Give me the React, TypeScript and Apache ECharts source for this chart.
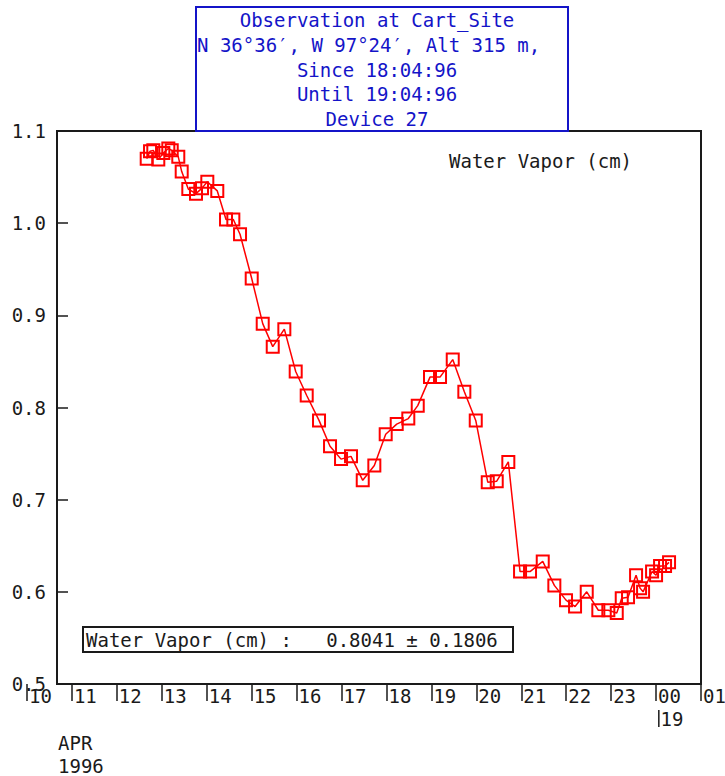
import React, { useEffect, useRef } from "react";
import * as echarts from "echarts";

// Hours since midnight of 18 Apr 1996 (24 = 00h on the 19th)
const times: number[] = [
  12.664, 12.738, 12.811, 12.922, 13.034, 13.145, 13.221, 13.367, 13.443, 13.59,
  13.761, 13.895, 14.013, 14.235, 14.429, 14.592, 14.741, 15.001, 15.246, 15.469,
  15.727, 15.98, 16.225, 16.499, 16.744, 16.989, 17.211, 17.472, 17.73, 17.983,
  18.228, 18.486, 18.696, 18.969, 19.192, 19.475, 19.733, 19.987, 20.254, 20.454,
  20.712, 20.973, 21.195, 21.478, 21.736, 21.996, 22.197, 22.457, 22.715, 22.938,
  23.125, 23.236, 23.376, 23.555, 23.644, 23.711, 23.911, 24.0, 24.089, 24.2,
  24.289,
];
const vapor: number[] = [
  1.070, 1.078, 1.079, 1.069, 1.076, 1.081, 1.079, 1.072, 1.056, 1.037,
  1.032, 1.038, 1.045, 1.035, 1.004, 1.004, 0.988, 0.940, 0.891, 0.866,
  0.885, 0.839, 0.813, 0.786, 0.758, 0.744, 0.747, 0.721, 0.737, 0.771,
  0.782, 0.788, 0.802, 0.833, 0.833, 0.852, 0.817, 0.786, 0.719, 0.720,
  0.741, 0.622, 0.622, 0.633, 0.607, 0.591, 0.584, 0.600, 0.580, 0.580,
  0.577, 0.593, 0.594, 0.618, 0.604, 0.600, 0.622, 0.618, 0.628, 0.628,
  0.632,
];

const titleLines: string[] = [
  "Observation at Cart_Site",
  "N 36°36′, W 97°24′, Alt 315 m,",
  "Since 18:04:96",
  "Until 19:04:96",
  "Device 27",
];
const seriesName = "Water Vapor (cm)";
const statsText = "Water Vapor (cm) :   0.8041 ± 0.1806";
const dateLines = "APR\n1996";
const yMin = 0.5;
const yMax = 1.1;
const yStep = 0.1;
const xMin = 10;
const xMax = 25;

const FONT = "DejaVu Sans Mono";
const BLUE = "#1414c8";
const INK = "#1a1a1a";

export default function App() {
  const ref = useRef<HTMLDivElement>(null);
  useEffect(() => {
    if (!ref.current) return;
    const chart = echarts.init(ref.current, undefined, { renderer: "svg" });
    const data = times.map((t, i) => [t, vapor[i]]);
    chart.setOption({
      animation: false,
      backgroundColor: "#fff",
      grid: {
        left: 27,
        right: 24,
        top: 131,
        bottom: 92,
        containLabel: false,
        outerBoundsMode: "none",
      },
      xAxis: {
        type: "value",
        min: xMin,
        max: xMax,
        interval: 1,
        axisLine: { show: false },
        splitLine: { show: false },
        axisTick: { show: true, inside: false, length: 17, lineStyle: { color: INK, width: 1.5 } },
        axisLabel: {
          showMinLabel: true,
          showMaxLabel: true,
          hideOverlap: false,
          align: "left",
          verticalAlign: "top",
          margin: 0,
          padding: [0, 0, 0, 2],
          lineHeight: 23,
          fontFamily: FONT,
          fontSize: 19,
          color: INK,
          formatter: (v: number) => {
            const h = Math.round(v) % 24;
            const s = String(h).padStart(2, "0");
            if (Math.round(v) === 24) return s + "\n{bar|}{gap|}19";
            return s;
          },
          rich: {
            bar: { width: 1.5, height: 17, backgroundColor: INK },
            gap: { width: 1, height: 17 },
          },
        },
      },
      yAxis: {
        type: "value",
        min: yMin,
        max: yMax,
        interval: yStep,
        offset: -30,
        axisLine: { show: false },
        splitLine: { show: false },
        axisTick: { show: true, inside: true, length: 11, lineStyle: { color: INK, width: 1.5 } },
        axisLabel: {
          margin: 11,
          fontFamily: FONT,
          fontSize: 19,
          color: INK,
          formatter: (v: number) => v.toFixed(1),
        },
      },
      series: [
        {
          name: seriesName,
          type: "line",
          data,
          symbol: "rect",
          symbolSize: 12,
          lineStyle: { color: "#ff0000", width: 1.5 },
          itemStyle: { color: "rgba(255,255,255,0)", borderColor: "#ff0000", borderWidth: 2 },
          z: 3,
        },
      ],
      graphic: [
        {
          type: "rect",
          z: 1,
          shape: { x: 57, y: 131, width: 644, height: 553 },
          style: { fill: "none", stroke: INK, lineWidth: 2 },
        },
        {
          type: "rect",
          z: 10,
          shape: { x: 196, y: 7, width: 372, height: 124 },
          style: { fill: "#fff", stroke: BLUE, lineWidth: 2 },
        },
        ...titleLines.map((t, i) => ({
          type: "text",
          z: 11,
          x: i === 1 ? 197 : 377,
          y: 20 + i * 24.75,
          style: {
            text: t,
            fill: BLUE,
            font: `19px "${FONT}"`,
            textAlign: i === 1 ? "left" : "center",
            textVerticalAlign: "middle",
          },
        })),
        {
          type: "text",
          z: 11,
          x: 449,
          y: 161,
          style: {
            text: seriesName,
            fill: INK,
            font: `19px "${FONT}"`,
            textAlign: "left",
            textVerticalAlign: "middle",
          },
        },
        {
          type: "rect",
          z: 10,
          shape: { x: 83, y: 627, width: 430, height: 25 },
          style: { fill: "#fff", stroke: INK, lineWidth: 2 },
        },
        {
          type: "text",
          z: 11,
          x: 86,
          y: 640,
          style: {
            text: statsText,
            fill: INK,
            font: `19px "${FONT}"`,
            textAlign: "left",
            textVerticalAlign: "middle",
          },
        },
        {
          type: "text",
          z: 11,
          x: 58,
          y: 731,
          style: {
            text: dateLines,
            fill: INK,
            font: `19px "${FONT}"`,
            lineHeight: 23,
            textAlign: "left",
            textVerticalAlign: "top",
          },
        },
      ],
    });
    return () => chart.dispose();
  }, []);
  return (
    <div
      ref={ref}
      style={{ position: "fixed", left: 0, top: 0, width: 725, height: 776 }}
    />
  );
}
